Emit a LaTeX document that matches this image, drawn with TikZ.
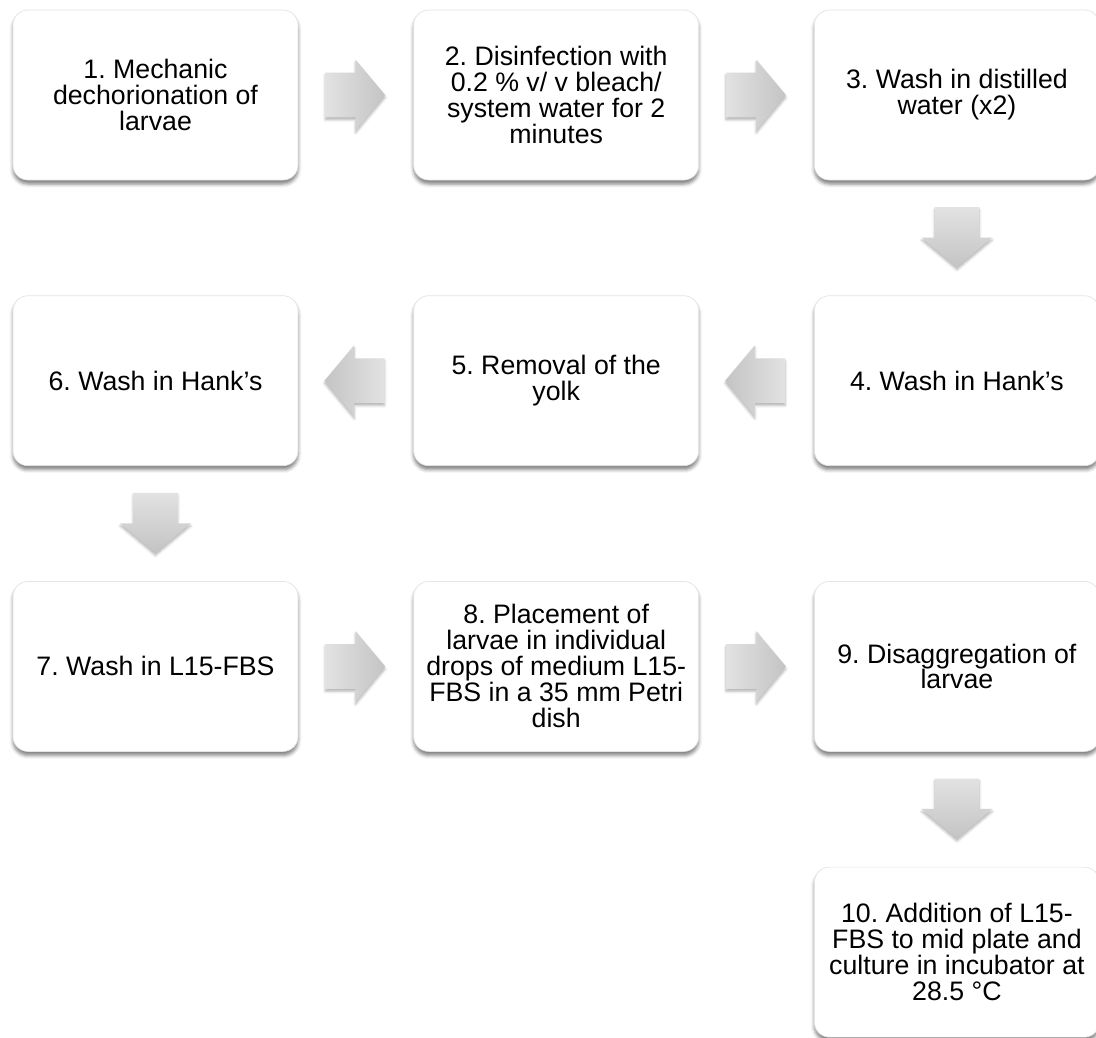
\documentclass[tikz,border=0pt]{standalone}
\usepackage{fontspec}
\setmainfont{Liberation Sans}
\usetikzlibrary{positioning,calc,shapes.arrows,shadows.blur}
\definecolor{arrowlight}{HTML}{E2E2E2}
\definecolor{arrowdark}{HTML}{C4C4C4}
\definecolor{boxline}{HTML}{E4E4E4}
\frenchspacing

\begin{document}
\begin{tikzpicture}[
  box/.style={draw=boxline,fill=white,rounded corners=0.3cm,align=center,
              minimum width=5.7cm,minimum height=3.4cm,inner sep=0pt,
              font=\fontsize{15.2}{14.8}\selectfont,
              blur shadow={shadow xshift=0pt,shadow yshift=-0.08cm,
                           shadow blur radius=0.07cm,shadow opacity=50}},
  flow/.style={single arrow,draw=none,anchor=tail,minimum height=1.2cm,
               minimum width=1.4cm,single arrow head extend=0.26cm,
               single arrow tip angle=100,
               blur shadow={shadow xshift=0pt,shadow yshift=-0.05cm,
                            shadow blur radius=0.05cm,shadow opacity=30}},
  toright/.style={flow,inner xsep=0pt,inner ysep=0.44cm,
                  left color=arrowlight,right color=arrowdark},
  toleft/.style={flow,inner xsep=0pt,inner ysep=0.44cm,shape border rotate=180,
                 left color=arrowdark,right color=arrowlight},
  todown/.style={flow,inner xsep=0.44cm,inner ysep=0pt,shape border rotate=270,
                 top color=arrowlight,bottom color=arrowdark},
  node distance=2.3cm]
\useasboundingbox (0,0) rectangle (21.92,-20.74);
% first row
\node[box] (s1) at (3.11,-1.9) {1. Mechanic\\dechorionation of\\larvae};
\node[box,right=of s1] (s2) {2. Disinfection with\\0.2 \% v/ v bleach/\\system water for 2\\minutes};
\node[box,right=of s2] (s3) {3. Wash in distilled\\water (x2)};
% second row, right to left
\node[box,below=of s3] (s4) {4. Wash in Hank’s};
\node[box,left=of s4] (s5) {5. Removal of the\\yolk};
\node[box,left=of s5] (s6) {6. Wash in Hank’s};
% third row
\node[box,below=of s6] (s7) {7. Wash in L15-FBS};
\node[box,right=of s7] (s8) {8. Placement of\\larvae in individual\\drops of medium L15-\\FBS in a 35 mm Petri\\dish};
\node[box,right=of s8] (s9) {9. Disaggregation of\\[-0.01cm]larvae};
\node[box,below=of s9] (s10) {10. Addition of L15-\\FBS to mid plate and\\culture in incubator at\\28.5 °C};
% block arrows, tail set back from the gap's middle
\node[toright] (a12) at ($(s1.east)!0.5!(s2.west)+(-0.62,0)$) {};
\node[toright] (a23) at ($(s2.east)!0.5!(s3.west)+(-0.62,0)$) {};
\node[todown]  (a34) at ($(s3.south)!0.5!(s4.north)+(0,0.62)$) {};
\node[toleft]  (a45) at ($(s4.west)!0.5!(s5.east)+(0.58,0)$) {};
\node[toleft]  (a56) at ($(s5.west)!0.5!(s6.east)+(0.58,0)$) {};
\node[todown]  (a67) at ($(s6.south)!0.5!(s7.north)+(0,0.62)$) {};
\node[toright] (a78) at ($(s7.east)!0.5!(s8.west)+(-0.62,0)$) {};
\node[toright] (a89) at ($(s8.east)!0.5!(s9.west)+(-0.62,0)$) {};
\node[todown]  (a910) at ($(s9.south)!0.5!(s10.north)+(0,0.62)$) {};
\end{tikzpicture}
\end{document}
